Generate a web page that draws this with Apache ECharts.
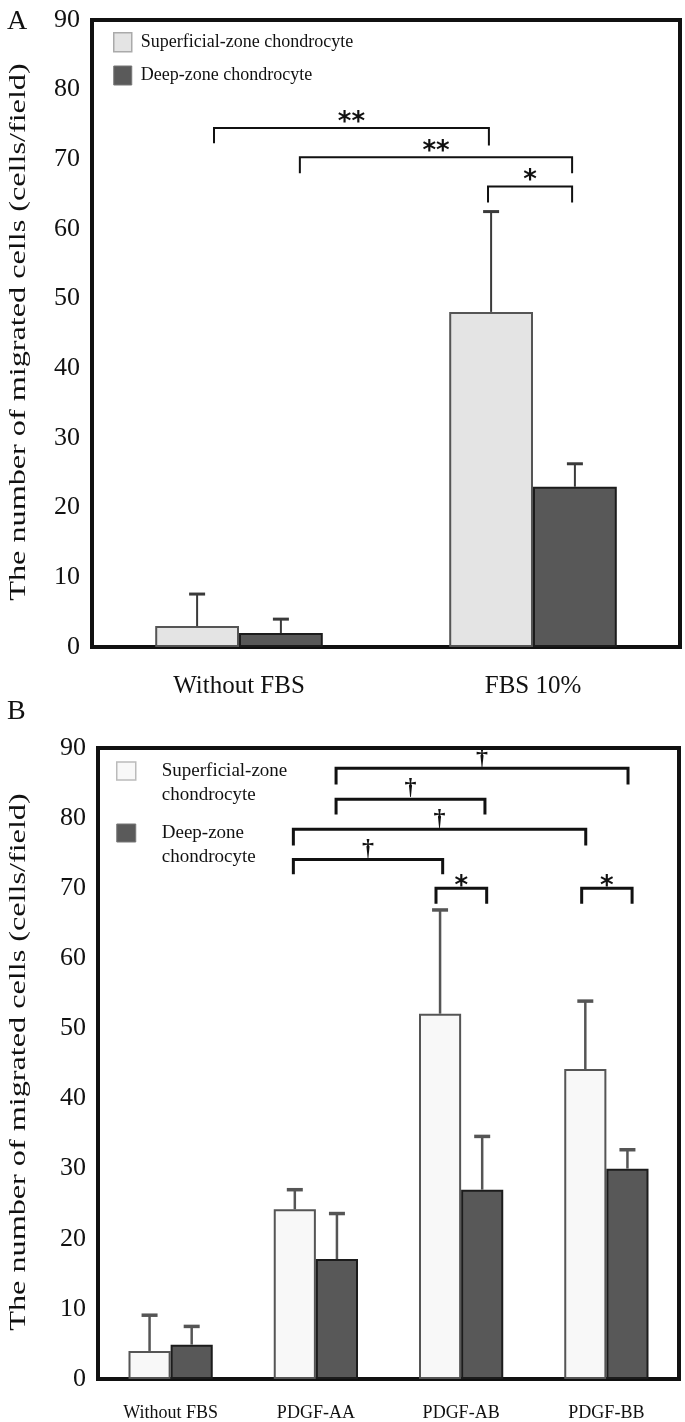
<!DOCTYPE html>
<html><head><meta charset="utf-8">
<script src="https://cdn.jsdelivr.net/npm/echarts@6/dist/echarts.min.js"></script>
<style>html,body{margin:0;padding:0;background:#fff}#c{width:685px;height:1422px}</style>
</head><body><div id="c"></div>
<script>
// ---------- data ----------
const seriesNames = ['Superficial-zone chondrocyte', 'Deep-zone chondrocyte'];
const legendBText = ['Superficial-zone\nchondrocyte', 'Deep-zone\nchondrocyte'];
const yAxisTitle = 'The number of migrated cells (cells/field)';

const catsA = ['Without FBS', 'FBS 10%'];
const supA = [3.0, 48.1];
const supSdA = [4.6, 14.4];
const deepA = [2.0, 23.0];
const deepSdA = [2.0, 3.3];

const catsB = ['Without FBS', 'PDGF-AA', 'PDGF-AB', 'PDGF-BB'];
const supB = [4.0, 24.2, 52.1, 44.2];
const supSdB = [5.1, 2.8, 14.8, 9.7];
const deepB = [4.9, 17.1, 27.0, 30.0];
const deepSdB = [2.6, 6.5, 7.6, 2.7];

const yMin = 0, yMax = 90, yStep = 10;

// brackets: [left (category units), right (category units), bar y, left drop y, right drop y, label]
const bracketsA = [
  [-0.085, 0.85, 74.5, 72.3, 72.0, '**'],
  [0.207, 1.133, 70.3, 68.0, 68.0, '**'],
  [0.847, 1.133, 66.1, 63.8, 63.8, '*']
];
const bracketsB = [
  [1.139, 3.149, 87.1, 84.8, 84.8, '\u2020'],
  [1.139, 2.164, 82.7, 80.5, 80.5, '\u2020'],
  [0.845, 2.858, 78.4, 76.1, 76.1, '\u2020'],
  [0.845, 1.873, 74.1, 72.0, 72.0, '\u2020'],
  [1.827, 2.176, 70.0, 67.8, 67.8, '*'],
  [2.830, 3.177, 70.0, 67.8, 67.8, '*']
];

// ---------- chart ----------
const SERIF = '"Liberation Serif", "Times New Roman", serif';
const SANS = '"DejaVu Sans", sans-serif';
const GAP_A = 0.43, GAP_B = 0.42;

function errItems(sup, supSd, deep, deepSd) {
  const out = [];
  sup.forEach((v, i) => out.push({cat: i, mean: v, sd: supSd[i], slot: 0}));
  deep.forEach((v, i) => out.push({cat: i, mean: v, sd: deepSd[i], slot: 1}));
  return out;
}

function errSeries(xi, items, gapFrac, color, capW, lw) {
  return {
    type: 'custom', xAxisIndex: xi, yAxisIndex: xi, z: 5, silent: true,
    data: items.map(it => [it.cat, it.mean + it.sd]),
    renderItem: function (params, api) {
      const it = items[params.dataIndex];
      const band = api.size([1, 0])[0];
      const bw = band * (1 - gapFrac) / 2;
      const cx = api.coord([it.cat, 0])[0] + (it.slot === 0 ? -bw / 2 : bw / 2);
      const y1 = api.coord([it.cat, it.mean])[1];
      const y2 = api.coord([it.cat, it.mean + it.sd])[1];
      return {type: 'group', children: [
        {type: 'line', shape: {x1: cx, y1: y1, x2: cx, y2: y2}, style: {stroke: color, lineWidth: lw}},
        {type: 'line', shape: {x1: cx - capW / 2, y1: y2, x2: cx + capW / 2, y2: y2}, style: {stroke: color, lineWidth: lw + 1}}
      ]};
    }
  };
}

function bracketSeries(xi, list, lw, starFont, starOff, dagFont, dagOff) {
  return {
    type: 'custom', xAxisIndex: xi, yAxisIndex: xi, z: 6, silent: true,
    data: list.map(b => [0, b[2]]),
    renderItem: function (params, api) {
      const b = list[params.dataIndex];
      const band = api.size([1, 0])[0];
      const x0 = api.coord([0, 0])[0];
      const xl = x0 + b[0] * band, xr = x0 + b[1] * band;
      const y = api.coord([0, b[2]])[1];
      const yl = api.coord([0, b[3]])[1];
      const yr = api.coord([0, b[4]])[1];
      const isStar = b[5].indexOf('*') >= 0;
      return {type: 'group', children: [
        {type: 'polyline', shape: {points: [[xl, yl], [xl, y], [xr, y], [xr, yr]]},
          style: {stroke: '#111', lineWidth: lw, fill: null}},
        {type: 'text', x: (xl + xr) / 2, y: y - (isStar ? starOff : dagOff),
          style: {text: b[5], fontSize: isStar ? starFont : dagFont, fontWeight: 'bold',
            fontFamily: isStar ? SANS : SERIF, fill: '#111', align: 'center', verticalAlign: 'middle'}}
      ]};
    }
  };
}

function yAxisCfg(gi) {
  return {
    gridIndex: gi, type: 'value', min: yMin, max: yMax, interval: yStep,
    axisLine: {show: false}, axisTick: {show: false}, splitLine: {show: false},
    axisLabel: {fontFamily: SERIF, fontSize: 26, color: '#111', margin: 12}
  };
}

function yTitle(cy) {
  return {
    type: 'text', x: 19, y: cy, rotation: Math.PI / 2, scaleX: 1.4, scaleY: 1,
    style: {text: yAxisTitle, fontFamily: SERIF, fontSize: 23, fill: '#111', align: 'center', verticalAlign: 'middle'}
  };
}

const option = {
  backgroundColor: '#fff',
  animation: false,
  title: [
    {text: 'A', left: 2, top: 3, textStyle: {fontFamily: SERIF, fontSize: 28, fontWeight: 'normal', color: '#111'}},
    {text: 'B', left: 2, top: 693, textStyle: {fontFamily: SERIF, fontSize: 28, fontWeight: 'normal', color: '#111'}}
  ],
  graphic: [yTitle(332), yTitle(1062)],
  grid: [
    {left: 92, top: 20, width: 588, height: 627, show: true, borderColor: '#111', borderWidth: 4, backgroundColor: 'transparent'},
    {left: 98, top: 748, width: 581, height: 634, show: true, borderColor: '#111', borderWidth: 4, backgroundColor: 'transparent'}
  ],
  legend: [
    {
      left: 113, top: 32, orient: 'vertical', padding: 0, itemGap: 13,
      itemWidth: 18, itemHeight: 19, icon: 'rect', selectedMode: false,
      textStyle: {fontFamily: SERIF, fontSize: 18, color: '#111', padding: [0, 0, 0, 4]},
      data: [
        {name: seriesNames[0], itemStyle: {color: '#e4e4e4', borderColor: '#aaa', borderWidth: 1.5}},
        {name: seriesNames[1], itemStyle: {color: '#5a5a5a', borderColor: '#777', borderWidth: 1}}
      ]
    },
    {
      left: 116, top: 735, orient: 'vertical', padding: 0, itemGap: -10,
      itemWidth: 19, itemHeight: 18, icon: 'rect', selectedMode: false,
      formatter: function (n) { return ' \n' + legendBText[seriesNames.indexOf(n)]; },
      textStyle: {fontFamily: SERIF, fontSize: 19, lineHeight: 24, color: '#111', padding: [0, 0, 0, 21]},
      data: [
        {name: seriesNames[0], itemStyle: {color: '#f8f8f8', borderColor: '#bbb', borderWidth: 1.5}},
        {name: seriesNames[1], itemStyle: {color: '#5a5a5a', borderColor: '#777', borderWidth: 1}}
      ]
    }
  ],
  xAxis: [
    {gridIndex: 0, type: 'category', data: catsA, axisLine: {show: false}, axisTick: {show: false},
      axisLabel: {fontFamily: SERIF, fontSize: 25, color: '#111', margin: 27}},
    {gridIndex: 1, type: 'category', data: catsB, axisLine: {show: false}, axisTick: {show: false},
      axisLabel: {fontFamily: SERIF, fontSize: 18, color: '#111', margin: 25}}
  ],
  yAxis: [yAxisCfg(0), yAxisCfg(1)],
  series: [
    {type: 'bar', name: seriesNames[0], xAxisIndex: 0, yAxisIndex: 0, data: supA,
      barGap: '0%', barCategoryGap: (GAP_A * 100) + '%',
      itemStyle: {color: '#e4e4e4', borderColor: '#555', borderWidth: 2}},
    {type: 'bar', name: seriesNames[1], xAxisIndex: 0, yAxisIndex: 0, data: deepA,
      barGap: '0%', barCategoryGap: (GAP_A * 100) + '%',
      itemStyle: {color: '#585858', borderColor: '#1c1c1c', borderWidth: 2}},
    {type: 'bar', name: seriesNames[0], xAxisIndex: 1, yAxisIndex: 1, data: supB,
      barGap: '0%', barCategoryGap: (GAP_B * 100) + '%',
      itemStyle: {color: '#f8f8f8', borderColor: '#555', borderWidth: 2}},
    {type: 'bar', name: seriesNames[1], xAxisIndex: 1, yAxisIndex: 1, data: deepB,
      barGap: '0%', barCategoryGap: (GAP_B * 100) + '%',
      itemStyle: {color: '#585858', borderColor: '#1c1c1c', borderWidth: 2}},
    errSeries(0, errItems(supA, supSdA, deepA, deepSdA), GAP_A, '#3a3a3a', 16, 2),
    errSeries(1, errItems(supB, supSdB, deepB, deepSdB), GAP_B, '#555', 16, 2.5),
    bracketSeries(0, bracketsA, 2, 26, 5, 24, 10),
    bracketSeries(1, bracketsB, 3, 26, 1, 24, 11)
  ]
};
const chart = echarts.init(document.getElementById('c'));
chart.setOption(option);
</script>
</body></html>
